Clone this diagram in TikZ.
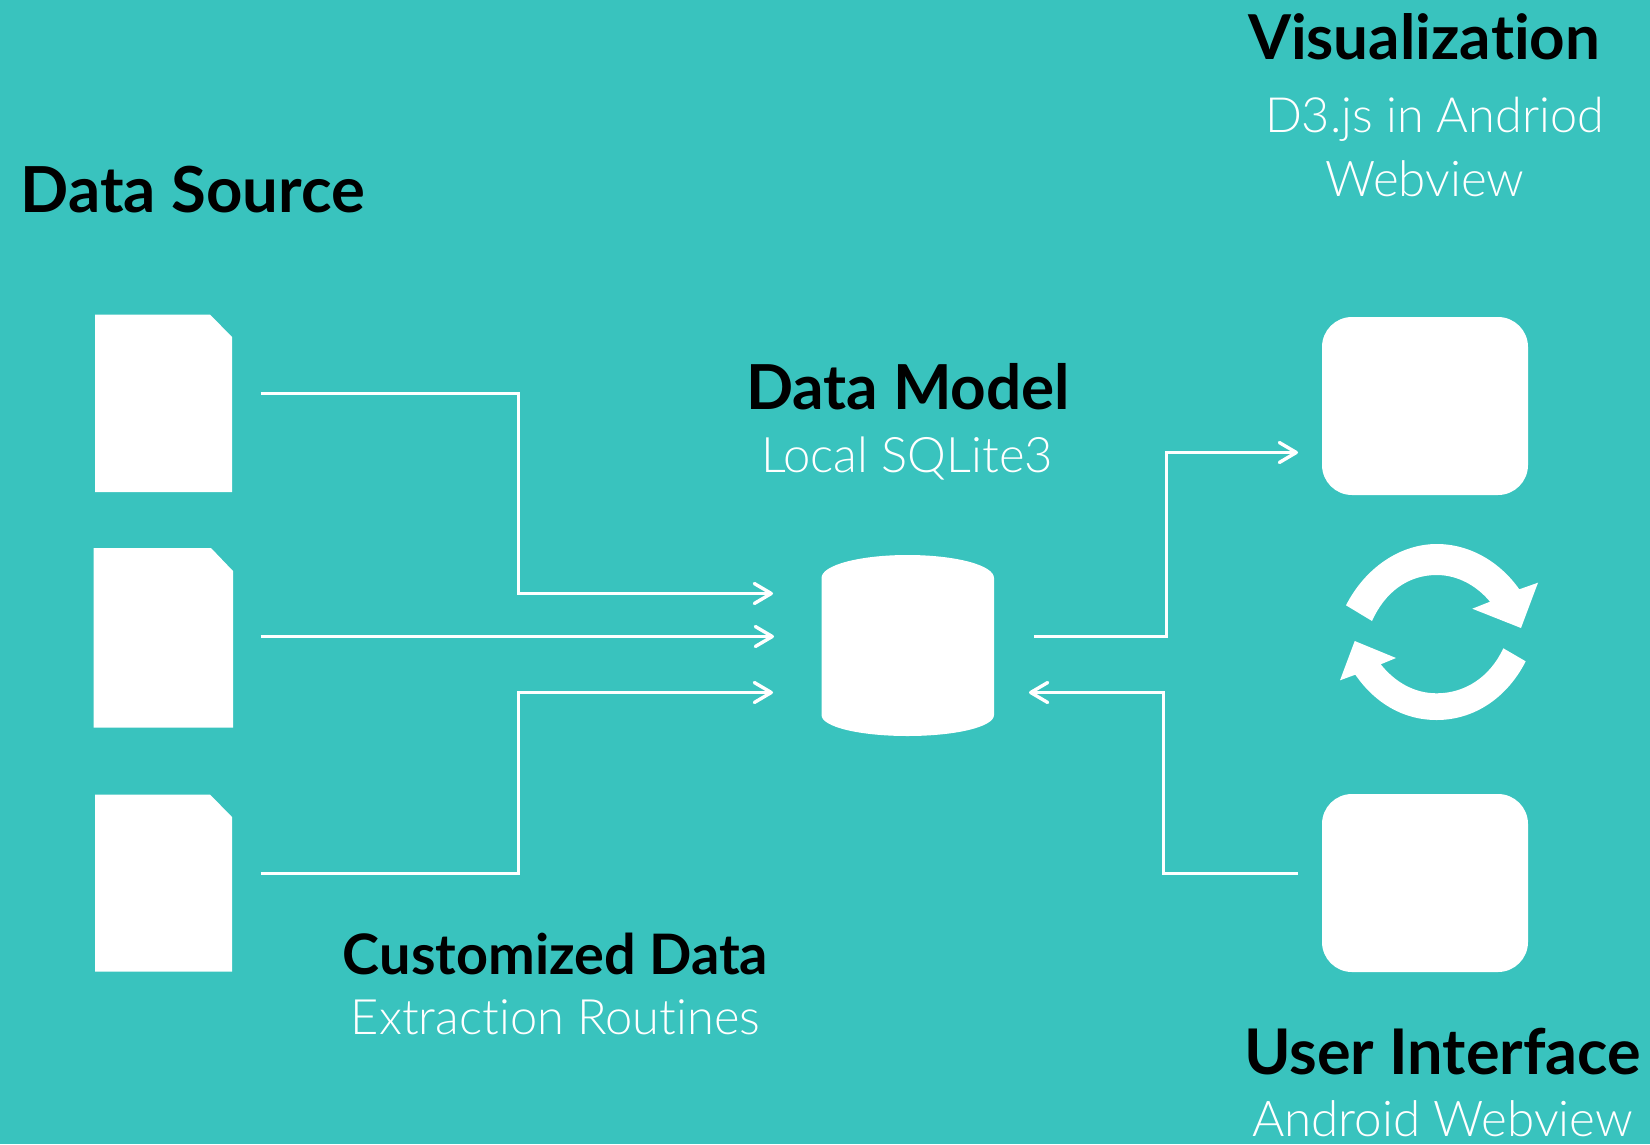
\documentclass[tikz,border=0pt]{standalone}
\usepackage{fontspec}
\usepackage{graphicx}
\usetikzlibrary{arrows.meta}
\setmainfont{Lato}[Ligatures=NoCommon]
\newfontfamily\lightf{Lato Light}[Ligatures=NoCommon]
\definecolor{bgteal}{HTML}{39C3BE}
\newcommand{\fitw}[2]{\resizebox{#1pt}{!}{#2}}
\tikzset{
  shapefill/.style={fill=white,draw=none},
  wire/.style={draw=white,line width=3pt,line join=miter,-{Straight Barb[length=17pt,width=20pt,line width=3.4pt,round]}},
  headtxt/.style={anchor=base,inner sep=0pt,text=black,font=\bfseries\fontsize{58}{60}\selectfont},
  subtxt/.style={anchor=base,inner sep=0pt,text=white,font=\lightf\fontsize{52}{54}\selectfont},
  roundbox/.style={shapefill,rounded corners=30pt,minimum width=206pt,minimum height=178pt,inner sep=0pt}
}
\begin{document}
\begin{tikzpicture}[x=1pt,y=-1pt]
\path[use as bounding box,fill=bgteal] (0,0) rectangle (1650,1144);
% documents
\fill[white] (95,314.5) -- (210,314.5) -- (232,337) -- (232,492) -- (95,492) -- cycle;
\fill[white] (93.5,548) -- (211,548) -- (233,571) -- (233,727.5) -- (93.5,727.5) -- cycle;
\fill[white] (95,794.5) -- (210,794.5) -- (232,817) -- (232,971.5) -- (95,971.5) -- cycle;
% cylinder
\fill[white] (821.5,578) .. controls (821.5,565) and (860,555) .. (907.5,555)
  .. controls (955,555) and (994,565) .. (994,578)
  -- (994,715) .. controls (994,727) and (955,736) .. (907.5,736)
  .. controls (860,736) and (821.5,727) .. (821.5,715) -- cycle;
% screens
\node[roundbox] (vis) at (1425,406) {};
\node[roundbox] (ui) at (1425,883) {};
% cycle arrows
\fill[white] (1346,605.3) .. controls (1365,568) and (1400,544) .. (1436.7,544)
  .. controls (1470,544) and (1500,562) .. (1519.3,589.3)
  -- (1538,582.7) -- (1521,628) -- (1472.3,608.7) -- (1490,601.7)
  .. controls (1477,586) and (1458,575) .. (1436.7,575)
  .. controls (1408,575) and (1385,592) .. (1372,621) -- cycle;
\fill[white] (1525.7,661.3) .. controls (1507,698) and (1474,720) .. (1436.7,720)
  .. controls (1403,720) and (1375,703) .. (1355.3,674.7)
  -- (1340,680.3) -- (1354.7,641) -- (1396,658) -- (1380.7,664.3)
  .. controls (1395,682) and (1414,693.3) .. (1436.7,693.3)
  .. controls (1465,693.3) and (1490,677) .. (1503.3,648.3) -- cycle;
% connector ends
\coordinate (s1) at (260.5,393.5);
\coordinate (s2) at (260.5,636.5);
\coordinate (s3) at (260.5,873.5);
\coordinate (e1) at (773,593.5);
\coordinate (e2) at (774,636.5);
\coordinate (e3) at (773,692.5);
\coordinate (m1) at (518,393.5);
\coordinate (m3) at (518,873.5);
\coordinate (o1) at (1034,636.5);
\coordinate (o1b) at (1166,636.5);
\coordinate (o2) at (1298,452.5);
\coordinate (i1) at (1298,873.5);
\coordinate (i1b) at (1163,873.5);
\coordinate (i2) at (1029,692.5);
\draw[wire] (s1) -- (m1) |- (e1);
\draw[wire] (s2) -- (e2);
\draw[wire] (s3) -- (m3) |- (e3);
\draw[wire] (o1) -- (o1b) |- (o2);
\draw[wire] (i1) -- (i1b) |- (i2);
% labels
\node[headtxt] (t1) at (1424,59) {\fitw{352}{Visualization}};
\node[subtxt] (t2) at (1434.5,132) {\fitw{339}{D3.js in Andriod}};
\node[subtxt] (t3) at (1425,196) {\fitw{199}{Webview}};
\node[headtxt] (t4) at (193,212) {\fitw{344}{Data Source}};
\node[headtxt] (t5) at (908,409) {\fitw{324}{Data Model}};
\node[subtxt] (t6) at (907,472) {\fitw{292}{Local SQLite3}};
\node[headtxt] (t7) at (555.5,974) {\fitw{425}{Customized Data}};
\node[subtxt] (t8) at (555.5,1034) {\fitw{409}{Extraction Routines}};
\node[headtxt] (t9) at (1442.5,1074) {\fitw{397}{User Interface}};
\node[subtxt] (t10) at (1442.5,1136) {\fitw{381}{Android Webview}};
\end{tikzpicture}
\end{document}
